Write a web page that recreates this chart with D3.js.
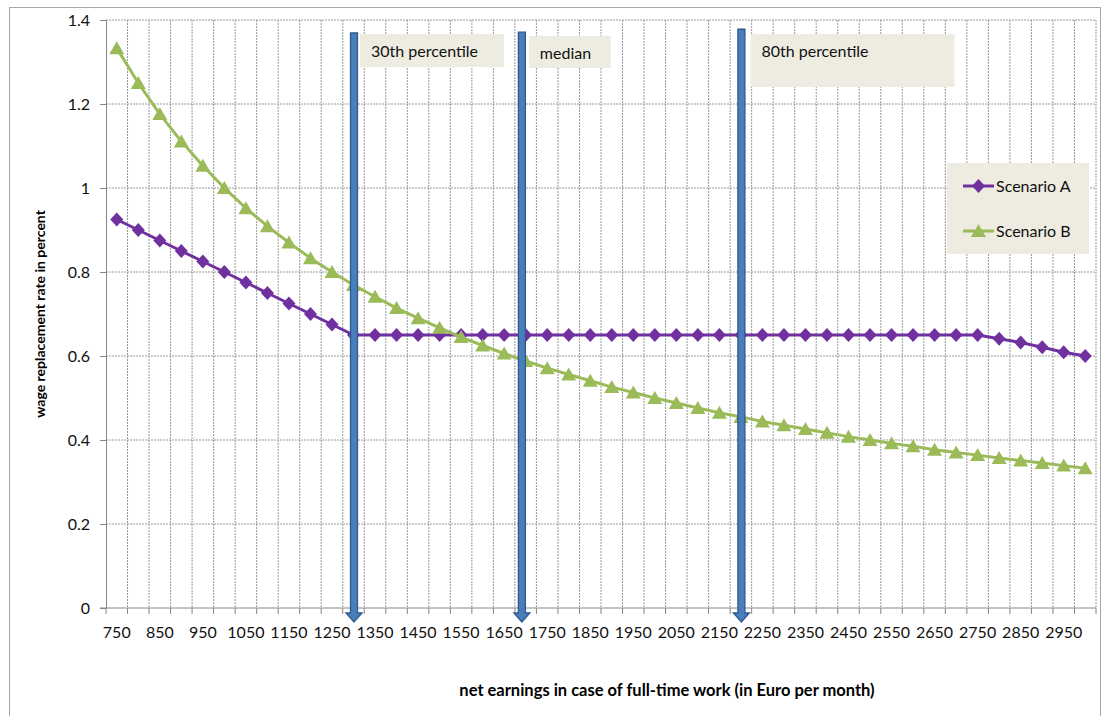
<!DOCTYPE html>
<html lang="en">
<head>
    <meta charset="UTF-8">
    <title>Wage replacement rate</title>
    <style>
        body { margin: 0; background: #fff; }
        svg { display: block; font-family: Lato, "Open Sans", sans-serif; }
        .grid line { stroke: #999; stroke-width: 1; stroke-dasharray: 2,1; }
        .axis line, .axis path { stroke: #868686; }
    </style>
</head>
<body>
<svg id="chart" width="1103" height="716"></svg>

<script src="https://d3js.org/d3.v7.min.js"></script>
<script>
    // earnings categories (Euro per month)
    var earnings = [750, 800, 850, 900, 950, 1000, 1050, 1100, 1150, 1200,
        1250, 1300, 1350, 1400, 1450, 1500, 1550, 1600, 1650, 1700,
        1750, 1800, 1850, 1900, 1950, 2000, 2050, 2100, 2150, 2200,
        2250, 2300, 2350, 2400, 2450, 2500, 2550, 2600, 2650, 2700,
        2750, 2800, 2850, 2900, 2950, 3000];

    var scenarioA = [0.925, 0.9, 0.875, 0.85, 0.825, 0.8, 0.775, 0.75, 0.725, 0.7,
        0.675, 0.65, 0.65, 0.65, 0.65, 0.65, 0.65, 0.65, 0.65, 0.65,
        0.65, 0.65, 0.65, 0.65, 0.65, 0.65, 0.65, 0.65, 0.65, 0.65,
        0.65, 0.65, 0.65, 0.65, 0.65, 0.65, 0.65, 0.65, 0.65, 0.65,
        0.65, 0.641, 0.632, 0.621, 0.609, 0.6];

    var scenarioB = [1.333, 1.25, 1.176, 1.111, 1.053, 1.0, 0.952, 0.909, 0.87, 0.833,
        0.8, 0.769, 0.741, 0.714, 0.69, 0.667, 0.645, 0.625, 0.606, 0.588,
        0.571, 0.556, 0.541, 0.526, 0.513, 0.5, 0.488, 0.476, 0.465, 0.455,
        0.444, 0.435, 0.426, 0.417, 0.408, 0.4, 0.392, 0.385, 0.377, 0.37,
        0.364, 0.357, 0.351, 0.345, 0.339, 0.333];

    var yTicks = [0, 0.2, 0.4, 0.6, 0.8, 1, 1.2, 1.4];

    // percentile markers: earnings value and top of the arrow (in y units)
    var markerLabels = ["30th percentile", "median", "80th percentile"];
    var markerValues = [1300, 1690, 2200];
    var markerTops = [1.369, 1.371, 1.378];

    var series = [
        { name: "Scenario A", values: scenarioA, color: "#7030A0", shape: "diamond" },
        { name: "Scenario B", values: scenarioB, color: "#9BBB59", shape: "triangle" }
    ];

    var plotLeft = 106, plotRight = 1096, plotTop = 20, plotBottom = 608;

    var svg = d3.select("#chart");

    // outer chart border
    svg.append("rect")
        .attr("x", 9.5).attr("y", 7.5)
        .attr("width", 1091).attr("height", 720)
        .attr("fill", "none").attr("stroke", "#a6a6a6");

    var x = d3.scaleBand().domain(earnings).range([plotLeft, plotRight]).padding(0);
    var step = x.step();
    var y = d3.scaleLinear().domain([0, 1.4]).range([plotBottom, plotTop]);
    // continuous earnings -> pixel, for the percentile arrows
    var xv = d3.scaleLinear()
        .domain([earnings[0], earnings[earnings.length - 1]])
        .range([x(earnings[0]) + step / 2, x(earnings[earnings.length - 1]) + step / 2]);

    // gridlines
    var bounds = d3.range(earnings.length + 1).map(i => plotLeft + i * step);
    var grid = svg.append("g").attr("class", "grid");
    grid.selectAll(".v").data(bounds.slice(1)).enter().append("line")
        .attr("x1", d => d).attr("x2", d => d)
        .attr("y1", plotTop).attr("y2", plotBottom);
    grid.selectAll(".h").data(yTicks.slice(1)).enter().append("line")
        .attr("x1", plotLeft).attr("x2", plotRight)
        .attr("y1", d => y(d)).attr("y2", d => y(d));

    // y axis
    var yAxis = svg.append("g").attr("class", "axis")
        .attr("transform", "translate(" + plotLeft + ",0)")
        .call(d3.axisLeft(y).tickValues(yTicks).tickSize(6).tickPadding(10)
            .tickFormat(d => String(+d.toFixed(1))));
    yAxis.select(".domain").attr("stroke", "#868686");
    yAxis.selectAll("text").attr("font-size", "16px").attr("fill", "#111")
        .attr("font-family", "Lato, sans-serif");

    // x axis line + ticks at category boundaries
    var xAxis = svg.append("g").attr("class", "axis");
    xAxis.append("line")
        .attr("x1", plotLeft - 6).attr("x2", plotRight)
        .attr("y1", plotBottom).attr("y2", plotBottom);
    xAxis.selectAll(".tk").data(bounds).enter().append("line")
        .attr("x1", d => d).attr("x2", d => d)
        .attr("y1", plotBottom).attr("y2", plotBottom + 6);
    xAxis.selectAll("text").data(earnings.filter((d, i) => i % 2 === 0)).enter().append("text")
        .attr("x", d => x(d) + step / 2)
        .attr("y", 638)
        .attr("text-anchor", "middle")
        .attr("font-size", "16px")
        .attr("fill", "#111")
        .text(d => d);

    // axis titles
    svg.append("text")
        .attr("transform", "translate(45," + ((plotTop + plotBottom) / 2) + ") rotate(-90)")
        .attr("text-anchor", "middle")
        .attr("font-size", "14px").attr("font-weight", "bold")
        .text("wage replacement rate in percent");
    svg.append("text")
        .attr("x", 667).attr("y", 696)
        .attr("text-anchor", "middle")
        .attr("font-size", "16.5px").attr("font-weight", "bold")
        .text("net earnings in case of full-time work (in Euro per month)");

    function markerPath(shape) {
        if (shape === "diamond") return "M0,-7L6.5,0L0,7L-6.5,0Z";
        return "M0,-7L7.5,6L-7.5,6Z";
    }

    // series
    var line = d3.line().x((d, i) => x(earnings[i]) + step / 2).y(d => y(d));
    series.forEach(s => {
        var g = svg.append("g");
        g.append("path")
            .attr("d", line(s.values))
            .attr("fill", "none")
            .attr("stroke", s.color)
            .attr("stroke-width", 3)
            .attr("stroke-linejoin", "round");
        g.selectAll("path.m").data(s.values).enter().append("path")
            .attr("class", "m")
            .attr("d", markerPath(s.shape))
            .attr("transform", (d, i) => "translate(" + (x(earnings[i]) + step / 2) + "," + y(d) + ")")
            .attr("fill", s.color);
    });

    // percentile arrows and their label boxes
    var boxW = [144, 82, 204], boxH = [33, 32, 53];
    markerValues.forEach((v, i) => {
        var cx = xv(v) + 0.5;
        var yt = y(markerTops[i]);
        var headTop = 613, tip = 622;
        svg.append("path")
            .attr("d", "M" + (cx - 3.5) + "," + yt + "L" + (cx + 3.5) + "," + yt +
                "L" + (cx + 3.5) + "," + headTop + "L" + (cx + 8) + "," + headTop +
                "L" + cx + "," + tip + "L" + (cx - 8) + "," + headTop +
                "L" + (cx - 3.5) + "," + headTop + "Z")
            .attr("fill", "#4A7EBB")
            .attr("stroke", "#2F5A8E")
            .attr("stroke-width", 1.3);
        var bx = cx + 6 + (i === 2 ? 3 : i);
        var by = i === 1 ? 36 : 34;
        svg.append("rect")
            .attr("x", bx).attr("y", by)
            .attr("width", boxW[i]).attr("height", boxH[i])
            .attr("fill", "#EEECE1");
        svg.append("text")
            .attr("x", bx + 11).attr("y", i === 1 ? 59 : 57)
            .attr("font-size", "16px")
            .attr("fill", "#111")
            .text(markerLabels[i]);
    });

    // legend
    var lg = svg.append("g");
    lg.append("rect")
        .attr("x", 947).attr("y", 163).attr("width", 142).attr("height", 91)
        .attr("fill", "#EEECE1");
    series.forEach((s, i) => {
        var ly = 186 + i * 45;
        lg.append("line")
            .attr("x1", 963).attr("x2", 994).attr("y1", ly).attr("y2", ly)
            .attr("stroke", s.color).attr("stroke-width", 3);
        lg.append("path")
            .attr("d", markerPath(s.shape))
            .attr("transform", "translate(978.5," + ly + ")")
            .attr("fill", s.color);
        lg.append("text")
            .attr("x", 996).attr("y", ly).attr("dy", "0.35em")
            .attr("font-size", "16px")
            .attr("fill", "#111")
            .text(s.name);
    });
</script>
</body>
</html>
